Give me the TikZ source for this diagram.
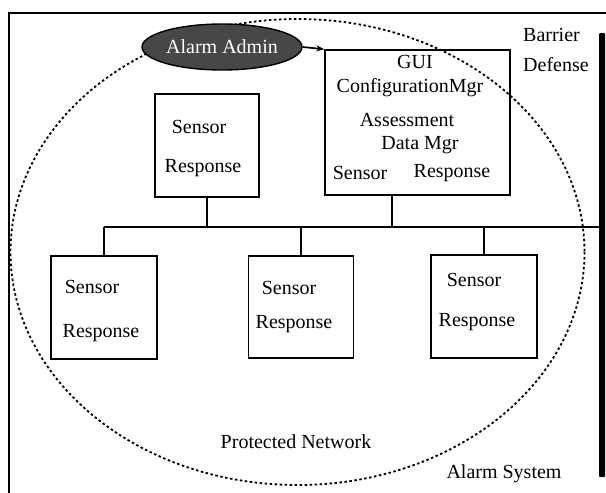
\documentclass[tikz,border=0pt]{standalone}
\usepackage{fontspec}
\setmainfont{Liberation Serif}
\usetikzlibrary{shapes.geometric,arrows.meta,calc}
\begin{document}
\begin{tikzpicture}[x=1pt,y=-1pt,
  every node/.style={inner sep=0pt, font=\fontsize{20}{24}\selectfont},
  box/.style={draw, line width=1.6pt, rectangle},
  wire/.style={line width=1.7pt},
  frame/.style={line width=2.2pt},
  zone/.style={line width=1.8pt, dash pattern=on 2.5pt off 2.5pt}]
\useasboundingbox (0,0) rectangle (606,493);
% outer frame (top and left)
\draw[frame] (606,13) -- (9,13) -- (9,493);
% barrier defense bar
\node[fill=black, minimum width=6pt, minimum height=444pt, rounded corners=1pt] (bar) at (602,255) {};
% protected network zone
\draw[zone] (297.5,252) ellipse [x radius=287, y radius=233];
% boxes
\node[box, minimum width=104pt, minimum height=103pt] (tl) at (207,145.5) {};
\node[box, minimum width=185pt, minimum height=145pt] (tr) at (417.5,122.5) {};
\node[box, minimum width=106pt, minimum height=103pt] (bl) at (104,307.5) {};
\node[box, minimum width=105pt, minimum height=102pt] (bm) at (301,307) {};
\node[box, minimum width=106pt, minimum height=103pt] (br) at (484,306.5) {};
% bus
\coordinate (bus) at (0,227);
\coordinate (trc) at ($(tr.south west)!0.362!(tr.south east)$);
\draw[wire] (bl.north |- bus) -- (bar.west |- bus);
\draw[wire] (tl.south) -- (tl.south |- bus);
\draw[wire] (trc) -- (trc |- bus);
\draw[wire] (bl.north) -- (bl.north |- bus);
\draw[wire] (bm.north) -- (bm.north |- bus);
\draw[wire] (br.north) -- (br.north |- bus);
% alarm admin
\node[ellipse, draw, line width=1.4pt, fill=black!72, text=white, minimum width=160pt, minimum height=46pt] (admin) at (222,47) {Alarm Admin};
\draw[wire, -{Stealth[length=8pt,width=6pt]}] (admin.east) -- (tr.north west);
% texts in boxes
\node (tls) at (199,127) {Sensor};
\node (tlr) at (203,168) {Response};
\node (gui) at (415,62) {GUI};
\node (cfg) at (410,88) {ConfigurationMgr};
\node (ass) at (407,120) {Assessment};
\node (dat) at (420,145) {Data Mgr};
\node (trs) at (360,173) {Sensor};
\node (trr) at (452,173) {Response};
\node (bls) at (92,287) {Sensor};
\node (blr) at (101,333) {Response};
\node (bms) at (289,288) {Sensor};
\node (bmr) at (294,324) {Response};
\node (brs) at (474,280) {Sensor};
\node (brr) at (477,322) {Response};
% labels
\node[anchor=west] (barrier) at (523,35) {Barrier};
\node[anchor=west] (defense) at (523,65) {Defense};
\node (pn) at (296,442) {Protected Network};
\node (as) at (504,474) {Alarm System};
\end{tikzpicture}
\end{document}
